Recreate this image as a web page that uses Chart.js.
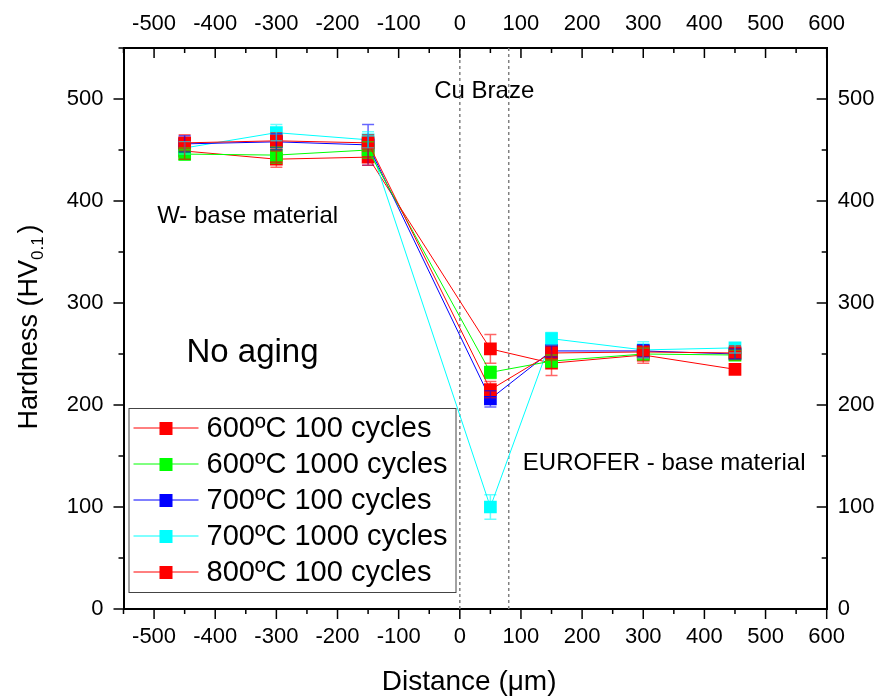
<!DOCTYPE html>
<html lang="en">
<head>
  <meta charset="UTF-8">
  <title>Hardness profile</title>
  <script src="https://cdn.jsdelivr.net/npm/chart.js"></script>
  <style>
    html, body { margin: 0; padding: 0; background: #fff; }
    #wrap { width: 878px; height: 698px; }
  </style>
</head>
<body>
<div id="wrap"><canvas id="myCanvas" width="878" height="698"></canvas></div>
<script>
  // data
  const distance = [-450, -300, -150, 50, 150, 300, 450];
  const seriesLabels = ["600ºC 100 cycles", "600ºC 1000 cycles", "700ºC 100 cycles", "700ºC 1000 cycles", "800ºC 100 cycles"];
  const hv600_100 = [457, 459, 457, 215, 251, 252, 251];
  const hv600_1000 = [446, 445, 450, 232, 243, 250, 249];
  const hv700_100 = [456, 458, 455, 206, 253, 253, 250];
  const hv700_1000 = [452, 467, 460, 100, 265, 254, 256];
  const hv800_100 = [449, 441, 443, 255, 241, 249, 235];
  const err600_100 = [8, 8, 8, 8, 7, 6, 7];
  const err600_1000 = [6, 8, 8, 6, 6, 6, 5];
  const err700_100 = [8, 8, 20, 8, 6, 6, 5];
  const err700_1000 = [6, 8, 8, 12, 6, 8, 5];
  const err800_100 = [8, 8, 8, 14, 12, 8, 4];
  const braze = [0, 80];
  const xTicks = [-500, -400, -300, -200, -100, 0, 100, 200, 300, 400, 500, 600];
  const yTicks = [0, 100, 200, 300, 400, 500];

  const colors = ["#ff0000", "#00ff00", "#0000ff", "#00ffff", "#ff0000"];
  const values = [hv600_100, hv600_1000, hv700_100, hv700_1000, hv800_100];
  const errors = [err600_100, err600_1000, err700_100, err700_1000, err800_100];

  const notes = [
    { text: "Cu Braze", x: 40, y: 507, align: "center", size: 24 },
    { text: "W- base material", x: -495, y: 385, align: "left", size: 24 },
    { text: "No aging", x: -447, y: 251, align: "left", size: 33 },
    { text: "EUROFER - base material", x: 103, y: 143, align: "left", size: 24 }
  ];

  const FONT = "'Liberation Sans', Arial, sans-serif";

  const datasets = values.map((vals, i) => ({
    label: seriesLabels[i],
    data: distance.map((x, j) => ({ x: x, y: vals[j] })),
    errs: errors[i],
    borderColor: colors[i],
    backgroundColor: colors[i],
    pointBackgroundColor: colors[i],
    pointBorderColor: colors[i],
    pointStyle: "rect",
    pointRadius: 9,
    pointBorderWidth: 0,
    borderWidth: 1,
    tension: 0,
    xAxisID: "x",
    yAxisID: "y"
  }));

  // error bars, braze lines, tick marks, notes, legend and axis titles
  const extras = {
    id: "extras",
    beforeDatasetsDraw(chart) {
      const ctx = chart.ctx, xs = chart.scales.x, a = chart.chartArea;
      ctx.save();
      ctx.strokeStyle = "#808080";
      ctx.lineWidth = 1.5;
      ctx.setLineDash([3, 3]);
      braze.forEach(b => {
        const px = xs.getPixelForValue(b);
        ctx.beginPath();
        ctx.moveTo(px, a.top);
        ctx.lineTo(px, a.bottom);
        ctx.stroke();
      });
      ctx.restore();
    },
    afterDatasetsDraw(chart) {
      const ctx = chart.ctx, xs = chart.scales.x, ys = chart.scales.y, a = chart.chartArea;
      ctx.save();
      // error bars
      chart.data.datasets.forEach(ds => {
        ctx.strokeStyle = ds.borderColor;
        ctx.globalAlpha = 0.6;
        ctx.lineWidth = 1.5;
        ds.data.forEach((p, j) => {
          const px = xs.getPixelForValue(p.x);
          const top = ys.getPixelForValue(p.y + ds.errs[j]);
          const bot = ys.getPixelForValue(p.y - ds.errs[j]);
          ctx.beginPath();
          ctx.moveTo(px, top); ctx.lineTo(px, bot);
          ctx.moveTo(px - 6, top); ctx.lineTo(px + 6, top);
          ctx.moveTo(px - 6, bot); ctx.lineTo(px + 6, bot);
          ctx.stroke();
        });
      });
      ctx.globalAlpha = 1;

      // ticks
      ctx.strokeStyle = "#000";
      ctx.lineWidth = 1.5;
      for (let v = -550; v <= 600; v += 50) {
        const px = xs.getPixelForValue(v);
        const len = v % 100 === 0 ? 10 : 5;
        ctx.beginPath();
        ctx.moveTo(px, a.bottom); ctx.lineTo(px, a.bottom + len);
        ctx.moveTo(px, a.top); ctx.lineTo(px, a.top + len);
        ctx.stroke();
      }
      for (let v = 0; v <= 550; v += 50) {
        const py = ys.getPixelForValue(v);
        const len = v % 100 === 0 ? 10 : 5;
        ctx.beginPath();
        ctx.moveTo(a.left, py); ctx.lineTo(a.left - len, py);
        ctx.moveTo(a.right, py); ctx.lineTo(a.right - len, py);
        ctx.stroke();
      }

      // notes
      ctx.fillStyle = "#000";
      ctx.textBaseline = "middle";
      notes.forEach(n => {
        ctx.font = n.size + "px " + FONT;
        ctx.textAlign = n.align;
        ctx.fillText(n.text, xs.getPixelForValue(n.x), ys.getPixelForValue(n.y));
      });

      // legend
      const lx = a.left + 5, ly = a.bottom - 201, lw = 327, lh = 184;
      ctx.fillStyle = "#fff";
      ctx.fillRect(lx, ly, lw, lh);
      ctx.strokeStyle = "#444";
      ctx.lineWidth = 1;
      ctx.strokeRect(lx + 0.5, ly + 0.5, lw, lh);
      ctx.font = "29px " + FONT;
      ctx.textAlign = "left";
      chart.data.datasets.forEach((ds, i) => {
        const cy = ly + 20 + i * 36;
        ctx.strokeStyle = ds.borderColor;
        ctx.beginPath();
        ctx.moveTo(lx + 5, cy); ctx.lineTo(lx + 70, cy);
        ctx.stroke();
        ctx.fillStyle = ds.backgroundColor;
        ctx.fillRect(lx + 31, cy - 6, 13, 13);
        ctx.fillStyle = "#000";
        ctx.fillText(ds.label, lx + 78, cy + 1);
      });

      // axis titles
      ctx.font = "28px " + FONT;
      ctx.textAlign = "center";
      ctx.fillText("Distance (\u03bcm)", (a.left + a.right) / 2 - 6, 682);

      ctx.translate(30, (a.top + a.bottom) / 2);
      ctx.rotate(-Math.PI / 2);
      const p1 = "Hardness (HV", p2 = "0.1", p3 = ")";
      ctx.font = "27px " + FONT;
      const w1 = ctx.measureText(p1).width, w3 = ctx.measureText(p3).width;
      ctx.font = "17px " + FONT;
      const w2 = ctx.measureText(p2).width;
      let x0 = -(w1 + w2 + w3) / 2;
      ctx.textAlign = "left";
      ctx.font = "27px " + FONT;
      ctx.fillText(p1, x0, 0);
      ctx.font = "17px " + FONT;
      ctx.fillText(p2, x0 + w1, 8);
      ctx.font = "27px " + FONT;
      ctx.fillText(p3, x0 + w1 + w2 + 3, 0);
      ctx.restore();
    }
  };

  const tickFont = { family: FONT, size: 22 };
  const xCommon = {
    type: "linear", min: -550, max: 600,
    grid: { display: false, drawTicks: false },
    border: { display: true, color: "#000", width: 2 },
    afterBuildTicks: s => { s.ticks = xTicks.map(v => ({ value: v })); }
  };
  const yCommon = {
    type: "linear", min: 0, max: 550,
    grid: { display: false, drawTicks: false },
    border: { display: true, color: "#000", width: 2 },
    afterBuildTicks: s => { s.ticks = yTicks.map(v => ({ value: v })); }
  };

  new Chart(document.getElementById("myCanvas"), {
    type: "line",
    data: { datasets: datasets },
    options: {
      responsive: false,
      animation: false,
      events: [],
      layout: { padding: 0 },
      plugins: { legend: { display: false }, tooltip: { enabled: false } },
      scales: {
        x: Object.assign({}, xCommon, {
          position: "bottom",
          ticks: { font: tickFont, color: "#000", padding: 15, maxRotation: 0 },
          afterFit: s => { s.height = 89; }
        }),
        x2: Object.assign({}, xCommon, {
          position: "top", axis: "x",
          ticks: { font: tickFont, color: "#000", padding: 11, maxRotation: 0 },
          afterFit: s => { s.height = 48; }
        }),
        y: Object.assign({}, yCommon, {
          position: "left",
          ticks: { font: tickFont, color: "#000", padding: 20 },
          afterFit: s => { s.width = 123.5; }
        }),
        y2: Object.assign({}, yCommon, {
          position: "right", axis: "y",
          ticks: { font: tickFont, color: "#000", padding: 11 },
          afterFit: s => { s.width = 51.3; }
        })
      }
    },
    plugins: [extras]
  });
</script>
</body>
</html>
